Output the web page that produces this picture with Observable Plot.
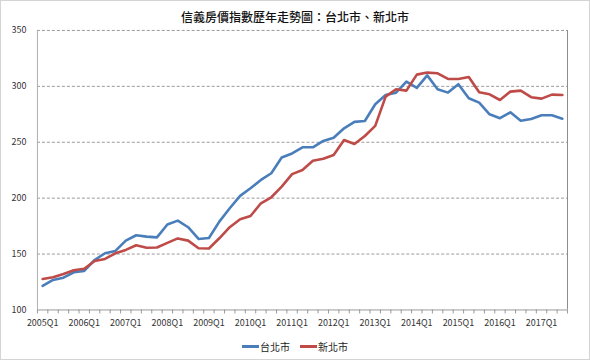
<!DOCTYPE html>
<html>
<head>
<meta charset="utf-8">
<script src="https://cdn.jsdelivr.net/npm/d3@7"></script>
<script src="https://cdn.jsdelivr.net/npm/@observablehq/plot@0.6"></script>
<style>
  html, body { margin: 0; padding: 0; background: #fff; }
  #wrap { position: relative; width: 590px; height: 360px; box-sizing: border-box; border: 1px solid #d4d4d4; overflow: hidden; font-family: "Noto Sans CJK TC", sans-serif; }
  #chart { position: absolute; left: -1px; top: -1px; }
  #title { position: absolute; left: 0; right: 0; top: 7px; text-align: center; font-size: 12px; font-weight: 500; color: #111; }
  #legend { position: absolute; left: 0; right: 0; top: 335px; text-align: center; font-size: 10px; color: #222; }
  .item { display: inline-flex; align-items: center; margin: 0 5px; }
  .sw { display: inline-block; width: 17px; height: 3px; margin-right: 1px; }
</style>
</head>
<body>
<div id="wrap">
  <div id="chart"></div>
  <div id="title">信義房價指數歷年走勢圖：台北市、新北市</div>
  <div id="legend"></div>
</div>
<script>
const quarters = [
  "2005Q1","2005Q2","2005Q3","2005Q4",
  "2006Q1","2006Q2","2006Q3","2006Q4",
  "2007Q1","2007Q2","2007Q3","2007Q4",
  "2008Q1","2008Q2","2008Q3","2008Q4",
  "2009Q1","2009Q2","2009Q3","2009Q4",
  "2010Q1","2010Q2","2010Q3","2010Q4",
  "2011Q1","2011Q2","2011Q3","2011Q4",
  "2012Q1","2012Q2","2012Q3","2012Q4",
  "2013Q1","2013Q2","2013Q3","2013Q4",
  "2014Q1","2014Q2","2014Q3","2014Q4",
  "2015Q1","2015Q2","2015Q3","2015Q4",
  "2016Q1","2016Q2","2016Q3","2016Q4",
  "2017Q1","2017Q2","2017Q3"
];
const taipei = [
  121.5, 126.8, 128.9, 133.7, 134.9, 144.7, 150.7, 152.8, 162.0, 166.8,
  165.6, 164.9, 176.4, 179.9, 174.0, 163.5, 164.4, 179.0, 191.0, 202.0,
  208.8, 216.3, 222.3, 236.3, 240.0, 245.5, 245.5, 251.2, 254.1, 262.5,
  268.2, 269.0, 284.0, 292.3, 294.4, 304.3, 298.6, 309.8, 297.4, 294.4,
  301.9, 289.4, 285.4, 275.0, 271.5, 276.8, 269.3, 270.8, 274.1, 274.1,
  271.1
];
const newTaipei = [
  127.7, 129.2, 132.2, 135.5, 136.9, 143.8, 145.6, 150.7, 153.7, 157.9,
  155.7, 155.9, 160.0, 164.0, 162.0, 155.2, 155.0, 164.1, 174.0, 181.1,
  184.0, 195.4, 200.8, 210.3, 221.5, 225.2, 233.5, 235.3, 238.6, 252.0,
  248.5, 255.6, 264.6, 290.8, 297.4, 296.2, 310.5, 312.3, 311.7, 306.6,
  306.6, 308.4, 294.7, 292.9, 287.8, 295.3, 296.2, 290.3, 289.0, 292.6,
  292.3
];
const seriesNames = ["台北市", "新北市"];
const seriesColors = ["#4a7ebb", "#be4b48"];
const yTicks = [100, 150, 200, 250, 300, 350];

const rows = [];
quarters.forEach((q, i) => {
  rows.push({i, q, s: seriesNames[0], v: taipei[i]});
  rows.push({i, q, s: seriesNames[1], v: newTaipei[i]});
});
const labelIdx = quarters.map((q, i) => i).filter(i => quarters[i].endsWith("Q1"));
const boundaries = quarters.map((q, i) => i - 0.5).concat([quarters.length - 0.5]);
const xMin = -0.5, xMax = quarters.length - 0.5;

const chart = Plot.plot({
  width: 590,
  height: 360,
  marginLeft: 37,
  marginRight: 22,
  marginTop: 30,
  marginBottom: 50,
  style: { fontFamily: "'Noto Sans CJK TC', sans-serif", fontSize: "9px", color: "#333", background: "transparent" },
  x: { domain: [xMin, xMax], axis: null, label: null },
  y: { domain: [100, 350], axis: null, label: null },
  color: { domain: seriesNames, range: seriesColors },
  marks: [
    Plot.gridY(yTicks.filter(t => t > 100), { stroke: "#9a9a9a", strokeOpacity: 1, strokeDasharray: "3,2" }),
    Plot.ruleY([100], { stroke: "#9a9a9a" }),
    Plot.ruleX([xMin], { stroke: "#b0b0b0" }),
    Plot.ruleX([xMax], { stroke: "#8c8c8c" }),
    Plot.axisY(yTicks, { tickSize: 0, tickPadding: 11, fontSize: 9, label: null }),
    Plot.axisX(labelIdx, { tickSize: 0, tickPadding: 10, tickFormat: i => quarters[i], fontSize: 9, label: null }),
    Plot.axisX(boundaries, { tickSize: 4, tickFormat: () => "", stroke: "#9a9a9a", label: null }),
    Plot.line(rows, { x: "i", y: "v", z: "s", stroke: "s", strokeWidth: 2.6, strokeLinejoin: "round" })
  ]
});
document.getElementById("chart").appendChild(chart);

const legend = document.getElementById("legend");
seriesNames.forEach((n, k) => {
  const it = document.createElement("span");
  it.className = "item";
  const sw = document.createElement("span");
  sw.className = "sw";
  sw.style.background = seriesColors[k];
  it.appendChild(sw);
  it.appendChild(document.createTextNode(n));
  legend.appendChild(it);
});
</script>
</body>
</html>
